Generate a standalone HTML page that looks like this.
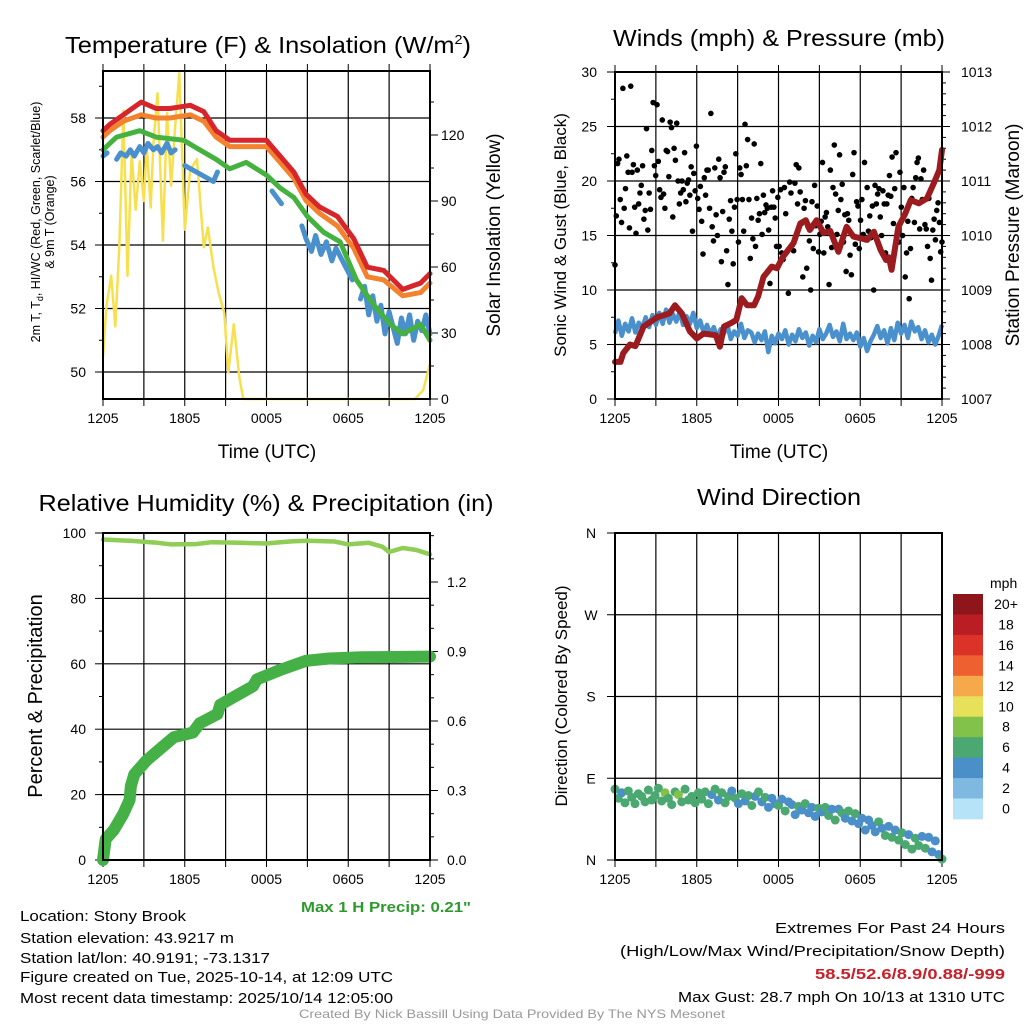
<!DOCTYPE html>
<html><head><meta charset="utf-8"><style>
html,body{margin:0;padding:0;background:#fff;}
svg{display:block;font-family:"Liberation Sans",Arial,sans-serif;}
</style></head><body>
<svg id="fig" width="1024" height="1024" viewBox="0 0 1024 1024" xmlns="http://www.w3.org/2000/svg">
<rect width="1024" height="1024" fill="#fff"/>
<text x="268" y="53" font-size="23" text-anchor="middle" textLength="406" lengthAdjust="spacingAndGlyphs">Temperature (F) &amp; Insolation (W/m<tspan font-size="13" dy="-9">2</tspan><tspan dy="9">)</tspan></text>
<text x="779" y="46" font-size="23" text-anchor="middle" textLength="332" lengthAdjust="spacingAndGlyphs">Winds (mph) &amp; Pressure (mb)</text>
<text x="266" y="511" font-size="23" text-anchor="middle" textLength="455" lengthAdjust="spacingAndGlyphs">Relative Humidity (%) &amp; Precipitation (in)</text>
<text x="779" y="505" font-size="23" text-anchor="middle" textLength="164" lengthAdjust="spacingAndGlyphs">Wind Direction</text>
<g id="p1"></g>
<g id="p2"></g>
<g id="p3"></g>
<g id="p4"></g>
<g id="cbar"></g>
<g font-size="15">
<text x="20" y="921" textLength="166" lengthAdjust="spacingAndGlyphs">Location: Stony Brook</text>
<text x="20" y="943" textLength="214" lengthAdjust="spacingAndGlyphs">Station elevation: 43.9217 m</text>
<text x="20" y="963" textLength="250" lengthAdjust="spacingAndGlyphs">Station lat/lon: 40.9191; -73.1317</text>
<text x="20" y="982" textLength="373" lengthAdjust="spacingAndGlyphs">Figure created on Tue, 2025-10-14, at 12:09 UTC</text>
<text x="20" y="1003" textLength="373" lengthAdjust="spacingAndGlyphs">Most recent data timestamp: 2025/10/14 12:05:00</text>
</g>
<text x="471" y="912" font-size="15" font-weight="bold" fill="#2e9a2e" text-anchor="end" textLength="170" lengthAdjust="spacingAndGlyphs">Max 1 H Precip: 0.21"</text>
<g font-size="15" text-anchor="end">
<text x="1005" y="933" textLength="230" lengthAdjust="spacingAndGlyphs">Extremes For Past 24 Hours</text>
<text x="1005" y="956" textLength="385" lengthAdjust="spacingAndGlyphs">(High/Low/Max Wind/Precipitation/Snow Depth)</text>
<text x="1005" y="979" font-weight="bold" fill="#c8202a" textLength="190" lengthAdjust="spacingAndGlyphs">58.5/52.6/8.9/0.88/-999</text>
<text x="1005" y="1002" textLength="327" lengthAdjust="spacingAndGlyphs">Max Gust: 28.7 mph On 10/13 at 1310 UTC</text>
</g>
<text x="512" y="1018" font-size="12" fill="#999" text-anchor="middle" textLength="426" lengthAdjust="spacingAndGlyphs">Created By Nick Bassill Using Data Provided By The NYS Mesonet</text>
</svg>
<script>
// ---------- data ----------
const timeTickLabels = ["1205","1805","0005","0605","1205"];
const redT_h = [0,0.5,1.5,2.8,3.9,4.9,6.4,7.4,8.3,9.3,10.5,12,13,14,14.9,15.9,17.2,18.4,19.4,20.6,22,23.3,24];
const redT_v = [57.6,57.8,58.1,58.5,58.3,58.3,58.4,58.2,57.6,57.3,57.3,57.3,56.8,56.3,55.6,55.2,54.9,54.2,53.3,53.2,52.6,52.8,53.1];
const orangeT_v = [57.4,57.6,57.9,58.1,58.0,58.0,58.1,57.9,57.4,57.1,57.1,57.1,56.6,56.1,55.4,55.0,54.6,53.9,53.0,52.9,52.4,52.5,52.8];
const greenT_h = [0,1,2.7,3.9,5.9,7.1,8.3,9.3,10.5,12,13,14,15,16.2,17.4,18.6,19.9,21.1,22,23.3,24];
const greenT_v = [57.0,57.4,57.6,57.4,57.3,57.0,56.7,56.4,56.6,56.2,55.8,55.5,54.9,54.4,54.1,52.9,52.1,51.5,51.2,51.5,51.0];
const dewT_h = [0,0.3,0.6,1,1.3,1.7,2,2.3,2.7,3,3.3,3.7,4,4.3,4.7,5,5.3,5.7,6,8.1,8.4,12.2,12.4,13.1,13.3,14.6,14.9,15.3,15.6,16,16.4,16.8,17.1,18.3,18.6,18.9,19.2,19.5,19.8,20.1,20.4,20.7,21,21.3,21.6,21.9,22.2,22.5,22.8,23.1,23.4,23.7,24];
const dewT_v = [56.8,56.9,null,56.7,56.9,56.8,57.0,56.8,57.1,56.9,57.2,57.0,57.1,56.9,57.2,56.9,57.0,null,56.5,56.0,56.3,null,55.7,55.3,null,54.6,54.2,53.8,54.3,53.7,54.1,53.5,53.9,52.9,null,52.3,52.7,51.8,52.4,51.6,52.1,51.2,51.9,51.4,50.9,51.7,51.2,51.8,51.0,51.6,51.3,51.8,51.2];
const insol_h = [0,0.25,0.6,0.9,1.2,1.5,1.8,2.1,2.4,2.7,3.0,3.2,3.5,3.7,4.0,4.4,4.7,5.0,5.3,5.6,6.0,6.4,6.9,7.4,7.7,8.1,8.5,8.9,9.2,9.6,10.0,10.3,22.9,23.5,24];
const insol_v = [19,42,56,33,69,131,56,112,86,108,90,116,87,116,139,72,130,97,124,148,77,104,109,69,78,60,48,39,12,34,10,0,0,4,16];
const wind_v = [6.0,7.2,5.8,6.9,6.2,7.4,6.1,7.0,6.5,7.5,6.6,7.7,6.8,7.9,6.9,8.2,7.0,7.8,7.1,8.0,6.8,7.6,6.9,7.9,6.5,7.2,6.1,6.8,5.9,6.6,5.6,6.4,6.0,6.8,5.5,6.2,5.8,6.9,5.6,6.3,6.1,5.2,6.0,5.4,6.2,4.3,5.8,5.1,6.0,5.5,6.3,5.0,5.9,5.3,6.4,5.6,6.1,4.9,5.8,5.2,6.4,5.5,6.0,6.8,5.7,6.2,5.3,6.9,5.5,6.0,5.4,6.1,4.8,5.6,4.4,5.3,5.9,6.7,5.6,6.3,5.1,6.5,5.4,7.0,6.0,6.8,5.6,7.1,6.2,6.6,5.5,6.3,5.2,5.9,5.0,5.8,6.8];
const gust_v = [12.3,16.8,21.6,22.0,18.3,16.2,28.5,17.5,19.3,22.3,20.8,15.7,28.7,20.8,21.5,17.6,15.2,21.0,17.9,18.9,19.6,21.4,16.5,17.3,24.8,15.5,18.9,17.4,22.8,27.2,21.4,20.5,27.0,21.8,19.2,18.5,25.6,18.8,17.5,22.8,22.7,20.4,25.4,24.9,16.7,23.0,21.9,25.3,20.0,17.9,18.9,20.0,19.2,22.6,18.1,19.8,20.1,18.7,21.3,15.4,20.7,19.1,23.2,18.4,17.4,19.5,16.3,13.3,20.3,18.7,21.0,21.0,17.5,26.2,15.8,14.5,21.2,16.9,15.0,22.0,20.3,12.6,17.2,20.8,21.3,13.6,10.5,16.5,18.2,15.4,12.4,17.6,22.5,18.3,14.4,21.2,20.6,18.3,15.4,25.2,21.4,23.8,18.3,12.9,16.6,14.7,23.4,14.0,18.4,16.4,17.0,21.6,15.1,18.7,17.1,17.8,17.5,15.5,10.6,17.6,19.1,17.6,16.6,14.0,18.5,14.0,19.2,13.4,12.8,19.4,17.0,13.5,9.7,19.9,18.9,14.1,13.6,19.8,21.5,17.9,21.2,19.0,16.1,11.2,17.5,18.2,12.0,15.8,14.5,10.0,18.1,13.8,19.6,15.9,17.7,13.5,15.1,16.3,21.7,13.4,16.7,17.1,15.8,10.5,21.0,13.9,19.4,23.3,18.8,15.1,17.3,22.4,18.3,19.7,14.4,16.9,11.7,17.0,16.4,13.2,11.4,20.6,22.6,14.2,18.1,17.7,13.8,16.4,18.3,15.1,21.7,14.6,19.4,15.4,16.8,14.8,17.7,10.0,19.6,17.9,18.8,19.3,16.7,15.0,19.1,17.9,13.4,17.9,18.7,20.5,18.6,22.2,16.1,19.3,22.6,15.3,14.4,20.8,17.6,15.0,19.4,11.2,13.4,16.3,9.2,13.8,18.4,19.4,16.2,20.3,21.7,22.1,15.6,20.2,18.3,21.0,16.0,15.6,14.0,18.4,12.9,10.9,15.5,16.5,14.6,17.3,18.0,16.2,13.5,14.4];
const pres_h = [0,0.4,0.6,1.1,1.5,2.1,3.1,4.0,4.4,4.9,5.5,6.0,6.5,7.4,7.7,8.0,8.5,8.9,9.3,9.7,10.2,10.5,10.9,11.5,11.9,12.3,13.1,13.6,14.0,14.3,14.8,15.3,15.8,16.4,17.0,17.5,18.0,18.5,19.0,19.5,19.9,20.1,20.3,20.8,21.3,21.7,22.3,22.9,23.4,23.8,24];
const pres_v = [1007.68,1007.68,1007.84,1008.0,1007.97,1008.33,1008.5,1008.57,1008.72,1008.57,1008.24,1008.11,1008.2,1008.17,1007.96,1008.33,1008.39,1008.45,1008.85,1008.72,1008.72,1008.88,1009.24,1009.43,1009.4,1009.6,1009.86,1010.22,1010.28,1010.1,1010.28,1010.05,1010.08,1009.7,1010.16,1009.98,1009.95,1009.92,1010.07,1009.73,1009.55,1009.6,1009.37,1010.16,1010.4,1010.65,1010.59,1010.68,1010.96,1011.2,1011.57];
const rh_h = [0,2,4,5,6.8,8,10,12,13,14,15,17,18,19.5,20.5,21,22,23,24];
const rh_v = [98,97.6,97.0,96.5,96.6,97.2,97.0,96.8,97.2,97.5,97.6,97.4,96.5,97.0,95.8,94.2,95.4,94.8,93.5];
const precip_h = [0,0.2,0.8,1.5,1.95,2.05,2.3,3.2,4.4,5.2,6.6,7.1,8.4,8.6,9.8,11,11.3,13,14.9,16.6,19,24];
const precip_v = [0,0.09,0.13,0.2,0.26,0.32,0.37,0.43,0.49,0.53,0.55,0.59,0.63,0.67,0.71,0.75,0.78,0.82,0.86,0.87,0.875,0.878];
const dir_v = [78,68,74,63,76,69,62,73,70,64,77,66,71,79,65,74,68,61,75,72,64,78,66,70,63,74,67,75,62,72,78,66,74,63,70,76,68,62,73,65,71,60,70,75,64,69,58,68,62,60,67,54,64,61,50,59,55,62,52,58,48,57,53,58,49,56,44,56,52,46,54,43,51,40,46,33,44,38,31,42,35,27,37,25,33,22,30,17,28,12,24,16,26,13,25,9,21,6,1];
const dirLabels = ["N","E","S","W","N"];
const cbarLabels = ["20+","18","16","14","12","10","8","6","4","2","0"];
const cbarColors = ["#8e1519","#bb1d25","#dc3329","#ee6030","#f5a94a","#e6e05a","#82c24a","#4aa870","#4a8fc8","#7fb9e2","#b6e3f8"];

// ---------- helpers ----------
const NS="http://www.w3.org/2000/svg";
function mk(parent,tag,attrs,text){const e=document.createElementNS(NS,tag);for(const k in attrs)e.setAttribute(k,attrs[k]);if(text!==undefined)e.textContent=text;parent.appendChild(e);return e;}
const X0=103,X1=430,X0b=615,X1b=942;
function xs(a,b){return h=>a+(h/24)*(b-a);}
function lin(v0,y0,v1,y1){return v=>y0+(v-v0)*(y1-y0)/(v1-v0);}
function pathOf(hs,vs,fx,fy){let d="",pen=false;for(let i=0;i<vs.length;i++){if(vs[i]===null){pen=false;continue;}d+=(pen?"L":"M")+fx(hs[i]).toFixed(1)+","+fy(vs[i]).toFixed(1);pen=true;}return d;}
function evenH(n){const a=[];for(let i=0;i<n;i++)a.push(i/(n-1)*24);return a;}

function frame(g,x0,x1,y0,y1,nameP){
  const fx=xs(x0,x1);
  for(let h=3;h<24;h+=3){const l=mk(g,"line",{x1:fx(h),x2:fx(h),y1:y0,y2:y1,stroke:"#000","stroke-width":1.2});
    
    }
  for(let h=0;h<=24;h+=3){mk(g,"line",{x1:fx(h),x2:fx(h),y1:y1,y2:y1+7,stroke:"#000","stroke-width":1});}
  timeTickLabels.forEach((s,i)=>{const t=mk(g,"text",{x:fx(i*6),y:y1+24,"font-size":14,"text-anchor":"middle"},s);
    
    });
}
function box(g,x0,x1,y0,y1){const r=mk(g,"rect",{x:x0,y:y0,width:x1-x0,height:y1-y0,fill:"none",stroke:"#000","stroke-width":2});
  
  }
function hgrid(g,x0,x1,ys){ys.forEach(y=>{const l=mk(g,"line",{x1:x0,x2:x1,y1:y,y2:y,stroke:"#000","stroke-width":1.2});
  
  });}

// ---------- Panel 1 ----------
(function(){
  const g=document.getElementById("p1");
  const T0=71,B=399;
  const fx=xs(X0,X1), fy=lin(50,372,58,118), fr=lin(0,399,120,135);
  hgrid(g,X0,X1,[50,52,54,56,58].map(fy));
  frame(g,X0,X1,T0,B,"temp");
  for(let h=0;h<=24;h+=3){mk(g,"line",{x1:fx(h),x2:fx(h),y1:T0,y2:T0-7,stroke:"#000"});}
  for(let v=50;v<=59;v++){const y=fy(v);mk(g,"line",{x1:X0,x2:X0-(v%2?4:8),y1:y,y2:y,stroke:"#000"});if(v%2===0){const t=mk(g,"text",{x:86,y:y+5,"font-size":14,"text-anchor":"end"},String(v));}}
  for(let v=0;v<=140;v+=15){const y=fr(v);mk(g,"line",{x1:X1,x2:X1+(v%30?4:8),y1:y,y2:y,stroke:"#000"});if(v%30===0){const t=mk(g,"text",{x:441,y:y+5,"font-size":14},String(v));}}
  const series=[[insol_h,insol_v,"#f7e04f",2.5,fr],[dewT_h,dewT_v,"#4a90cc",5,fy],[greenT_h,greenT_v,"#45b23f",5,fy],[redT_h,orangeT_v,"#f3822f",5,fy],[redT_h,redT_v,"#d7262b",5,fy]];
  const names=["insolation-line","dewpoint-line","heat-index-line","temp-9m-line","temp-2m-line"];
  series.forEach((s,i)=>{const p=mk(g,"path",{d:pathOf(s[0],s[1],fx,s[4]),fill:"none",stroke:s[2],"stroke-width":s[3],"stroke-linejoin":"round","stroke-linecap":"round"});
    
    });
  box(g,X0,X1,T0,B);
  const a=mk(g,"text",{x:267,y:458,"font-size":19,"text-anchor":"middle"},"Time (UTC)");
  const l1=mk(g,"text",{transform:"translate(40,222) rotate(-90)","font-size":12.5,"text-anchor":"middle"});
  l1.innerHTML='2m T, T<tspan font-size="9" dy="3">d</tspan><tspan dy="-3">, HI/WC (Red, Green, Scarlet/Blue)</tspan>';
  
  const l2=mk(g,"text",{transform:"translate(54,222) rotate(-90)","font-size":12.5,"text-anchor":"middle"},"& 9m T (Orange)");
  
  const r=mk(g,"text",{transform:"translate(500,235) rotate(-90)","font-size":19,"text-anchor":"middle"},"Solar Insolation (Yellow)");
  
})();

// ---------- Panel 2 ----------
(function(){
  const g=document.getElementById("p2");
  const T0=72,B=399;
  const fx=xs(X0b,X1b), fy=lin(0,399,30,72), fp=lin(1007,399,1013,72);
  hgrid(g,X0b,X1b,[5,10,15,20,25].map(fy));
  frame(g,X0b,X1b,T0,B,"winds");
  for(let h=0;h<=24;h+=3){mk(g,"line",{x1:fx(h),x2:fx(h),y1:T0,y2:T0-7,stroke:"#000"});}
  for(let v=0;v<=30;v+=2.5){const y=fy(v);const maj=v%5===0;mk(g,"line",{x1:X0b,x2:X0b-(maj?8:4),y1:y,y2:y,stroke:"#000"});if(maj){const t=mk(g,"text",{x:597,y:y+5,"font-size":14,"text-anchor":"end"},String(v));}}
  for(let v=1007;v<=1013.001;v+=0.2){const y=fp(v);const maj=Math.abs(v-Math.round(v))<0.01;mk(g,"line",{x1:X1b,x2:X1b+(maj?8:4),y1:y,y2:y,stroke:"#000"});if(maj){const t=mk(g,"text",{x:961,y:y+5,"font-size":14},String(Math.round(v)));}}
  const wh=evenH(wind_v.length);
  const wp=mk(g,"path",{d:pathOf(wh,wind_v,fx,fy),fill:"none",stroke:"#4a90cc","stroke-width":4.5,"stroke-linejoin":"round"});
  
  const gh=evenH(gust_v.length);
  gust_v.forEach((v,i)=>{const c=mk(g,"circle",{cx:fx(gh[i]),cy:fy(v),r:2.8,fill:"#000"});
    
    });
  const pp=mk(g,"path",{d:pathOf(pres_h,pres_v,fx,fp),fill:"none",stroke:"#9b1b1e","stroke-width":6,"stroke-linejoin":"round","stroke-linecap":"round"});
  
  box(g,X0b,X1b,T0,B);
  const a=mk(g,"text",{x:779,y:458,"font-size":19,"text-anchor":"middle"},"Time (UTC)");
  const l=mk(g,"text",{transform:"translate(566,235) rotate(-90)","font-size":17,"text-anchor":"middle"},"Sonic Wind & Gust (Blue, Black)");
  
  const r=mk(g,"text",{transform:"translate(1019,235) rotate(-90)","font-size":19,"text-anchor":"middle"},"Station Pressure (Maroon)");
  
})();

// ---------- Panel 3 ----------
(function(){
  const g=document.getElementById("p3");
  const T0=533,B=860;
  const fx=xs(X0,X1), fy=lin(0,860,100,533), fp=lin(0,860,1.2,582);
  hgrid(g,X0,X1,[20,40,60,80].map(fy));
  frame(g,X0,X1,T0,B,"rh");
  for(let v=0;v<=100;v+=10){const y=fy(v);const maj=v%20===0;mk(g,"line",{x1:X0,x2:X0-(maj?8:4),y1:y,y2:y,stroke:"#000"});if(maj){const t=mk(g,"text",{x:86,y:y+5,"font-size":14,"text-anchor":"end"},String(v));}}
  for(let k=0;k<=14;k++){const v=k*0.1;const y=fp(v);const maj=k%3===0;mk(g,"line",{x1:X1,x2:X1+(maj?8:4),y1:y,y2:y,stroke:"#000"});if(maj){const t=mk(g,"text",{x:447,y:y+5,"font-size":14},v.toFixed(1));}}
  const rp=mk(g,"path",{d:pathOf(rh_h,rh_v,fx,fy),fill:"none",stroke:"#8fcd55","stroke-width":4.5,"stroke-linejoin":"round","stroke-linecap":"round"});
  
  const pp=mk(g,"path",{d:pathOf(precip_h,precip_v,fx,fp),fill:"none",stroke:"#45b046","stroke-width":12,"stroke-linejoin":"round","stroke-linecap":"round"});
  
  box(g,X0,X1,T0,B);
  const l=mk(g,"text",{transform:"translate(42,696) rotate(-90)","font-size":20,"text-anchor":"middle"},"Percent & Precipitation");
  
})();

// ---------- Panel 4 ----------
(function(){
  const g=document.getElementById("p4");
  const T0=533,B=860;
  const fx=xs(X0b,X1b), fy=lin(0,860,360,533);
  hgrid(g,X0b,X1b,[90,180,270].map(fy));
  frame(g,X0b,X1b,T0,B,"dir");
  dirLabels.forEach((s,i)=>{const y=fy(i*90);mk(g,"line",{x1:X0b,x2:X0b-8,y1:y,y2:y,stroke:"#000"});const t=mk(g,"text",{x:591,y:y+5,"font-size":14,"text-anchor":"middle"},s);});
  const dh=evenH(dir_v.length);
  dir_v.forEach((d,i)=>{
    const sp=wind_v[Math.round(i/(dir_v.length-1)*(wind_v.length-1))];
    const bin=Math.min(10,Math.floor(sp/2));
    const c=mk(g,"circle",{cx:fx(dh[i]),cy:fy(d),r:4.5,fill:cbarColors[10-bin]});
    
    });
  box(g,X0b,X1b,T0,B);
  const l=mk(g,"text",{transform:"translate(567,696) rotate(-90)","font-size":17,"text-anchor":"middle"},"Direction (Colored By Speed)");
  
  const cb=document.getElementById("cbar");
  const u=mk(cb,"text",{x:990,y:588,"font-size":14},"mph");
  cbarColors.forEach((c,i)=>{const r=mk(cb,"rect",{x:953,y:594+i*20.45,width:30,height:20.9,fill:c});
    
    
    const t=mk(cb,"text",{x:1006,y:594+i*20.45+15,"font-size":14,"text-anchor":"middle"},cbarLabels[i]);
    
    });
})();
</script>
</body></html>
